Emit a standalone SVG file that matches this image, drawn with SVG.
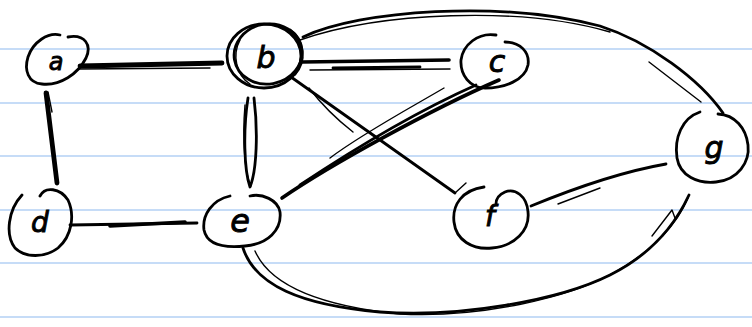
<svg xmlns="http://www.w3.org/2000/svg" width="752" height="327" viewBox="0 0 752 327">
<style>
.rule{stroke:#c6dcf7;stroke-width:2}
.ink{fill:none;stroke:#000;stroke-linecap:round;stroke-linejoin:round}
.w1{stroke-width:1.4}
.w2{stroke-width:2.8}
.w3{stroke-width:3.6}
.w4{stroke-width:4.8}
.lbl{font-family:"DejaVu Sans",sans-serif;font-size:30px;font-style:italic;fill:#000;stroke:#000;stroke-width:0.9;text-anchor:middle}
</style>
<rect width="752" height="327" fill="#fff"/>
<g id="paper">
<line class="rule" x1="0" y1="49" x2="752" y2="49"/>
<line class="rule" x1="0" y1="103" x2="752" y2="103"/>
<line class="rule" x1="0" y1="156" x2="752" y2="156"/>
<line class="rule" x1="0" y1="210" x2="752" y2="210"/>
<line class="rule" x1="0" y1="263" x2="752" y2="263"/>
<line class="rule" x1="0" y1="317" x2="752" y2="317"/>
</g>
<g id="connectors">
<!-- a-b -->
<path class="ink w4" d="M80,66 L222,63"/>
<path class="ink w1" d="M78,69 L210,68"/>
<!-- a-d -->
<path class="ink w4" d="M46,93 L57,183"/>
<path class="ink w1" d="M48,92 L52,112"/>
<!-- b-e -->
<path class="ink w2" d="M248,98 C243,130 244,170 250,187 C257,170 258,130 254,98"/>
<path class="ink w1" d="M245,105 C242,140 245,175 251,186"/>
<!-- b-c -->
<path class="ink w3" d="M302,62 L449,60"/>
<path class="ink w1" d="M310,70 L450,69"/>
<path class="ink w2" d="M333,68 L420,67"/>
<!-- b-f -->
<path class="ink w2" d="M291,77 L455,193"/>
<path class="ink w1" d="M309,88 C322,105 335,118 353,132"/>
<path class="ink w1" d="M455,193 L466,183"/>
<!-- c-e -->
<path class="ink w3" d="M499,80 C430,110 330,165 282,198"/>
<path class="ink w2" d="M476,85 C420,110 360,145 300,185"/>
<path class="ink w1" d="M444,88 C410,108 360,135 330,158"/>
<!-- d-e -->
<path class="ink w2" d="M70,225 L197,223"/>
<path class="ink w3" d="M110,226 L185,222"/>
<!-- f-g -->
<path class="ink w2" d="M531,206 C570,190 620,172 666,164"/>
<path class="ink w1" d="M558,204 L600,188"/>
<!-- b-g top arc -->
<path class="ink w2" d="M303,37 C360,10 500,0 600,26 C650,42 700,80 723,113"/>
<path class="ink w1" d="M300,40 C380,12 520,6 610,32"/>
<path class="ink w1" d="M649,62 L701,102"/>
<!-- e-g bottom arc -->
<path class="ink w2" d="M243,248 C255,285 300,305 380,312 C460,318 560,300 610,275 C650,255 675,225 689,195"/>
<path class="ink w1" d="M255,251 C270,285 320,306 400,314 C480,318 570,298 615,272 C655,250 678,222 688,198"/>
<path class="ink w1" d="M652,236 L672,210 L675,218"/>
</g>
<g id="node-a">
<path class="ink w2" d="M68,37 C85,34 92,45 86,58 C78,74 60,86 42,84 C28,83 24,70 28,57 C33,42 48,32 60,35"/>
<text class="lbl" x="56" y="70" style="font-size:24px">a</text>
</g>
<g id="node-b">
<ellipse class="ink w2" cx="264" cy="56" rx="37" ry="32"/>
<ellipse class="ink w2" cx="268" cy="54" rx="34" ry="30" transform="rotate(-10 268 54)"/>
<path class="ink w1" d="M240,40 C232,55 236,75 250,84"/>
<path class="ink w2" d="M290,30 C305,40 306,62 295,74"/>
<text class="lbl" x="266" y="68">b</text>
</g>
<g id="node-c">
<path class="ink w2" d="M496,35 C478,32 463,45 461,60 C460,75 470,88 485,88 C505,88 525,80 528,65 C530,52 520,42 505,42"/>
<text class="lbl" x="497" y="72" style="font-size:30px">c</text>
</g>
<g id="node-d">
<path class="ink w2" d="M22,195 C8,210 5,235 15,248 C25,258 45,258 58,248 C72,236 75,215 68,200 C60,188 45,186 40,196"/>
<text class="lbl" x="40" y="232" style="font-size:28px">d</text>
</g>
<g id="node-e">
<path class="ink w2" d="M230,196 C212,200 202,215 204,230 C207,245 225,248 245,246 C268,244 282,230 280,212 C278,200 262,193 250,196"/>
<text class="lbl" x="240" y="232" style="font-size:32px">e</text>
</g>
<g id="node-f">
<path class="ink w2" d="M484,187 C462,190 452,205 454,222 C456,240 472,250 492,248 C515,246 530,230 528,212 C527,196 515,188 505,192 C498,195 496,200 496,204"/>
<text class="lbl" x="490" y="226" style="font-size:28px">f</text>
</g>
<g id="node-g">
<path class="ink w2" d="M700,112 C682,118 674,138 677,158 C680,176 698,184 716,182 C738,180 750,162 748,145 C746,128 735,115 718,114"/>
<text class="lbl" x="714" y="158" style="font-size:30px">g</text>
</g>
</svg>
